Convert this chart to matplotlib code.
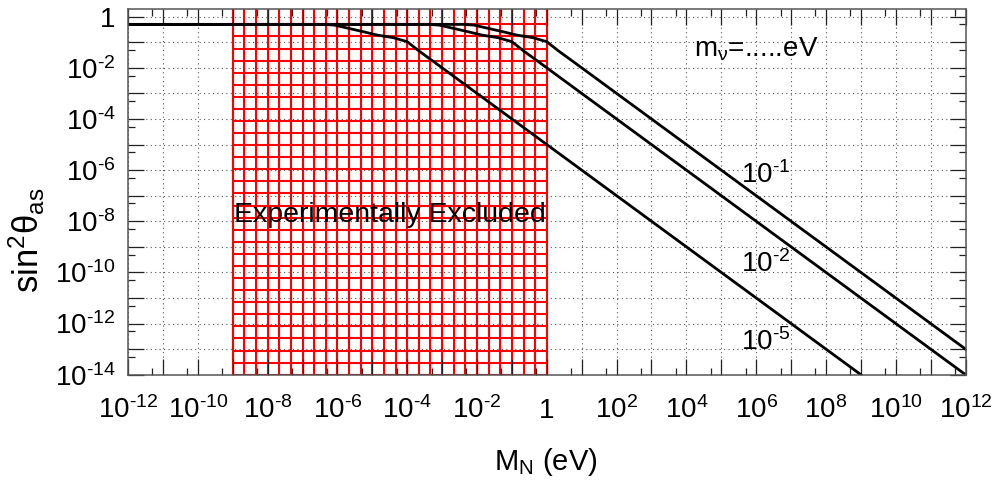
import numpy as np
import matplotlib
matplotlib.use("Agg")
import matplotlib.pyplot as plt
from matplotlib.ticker import FixedLocator, FixedFormatter

plt.rcParams["font.family"] = ["Liberation Sans", "DejaVu Sans"]
plt.rcParams["mathtext.fontset"] = "custom"
plt.rcParams["mathtext.rm"] = "Liberation Sans"
plt.rcParams["mathtext.it"] = "Liberation Sans:italic"
plt.rcParams["mathtext.bf"] = "Liberation Sans:bold"

# active-sterile mixing vs heavy mass, one curve per light neutrino mass
mass_nu_1e1 = [1e-12, 4e-3, 8e-3, 2e-2, 5.6e-2, 0.14, 0.4, 1.0, 2.2, 5.0, 1e12]
sin2_nu_1e1 = [0.5, 0.5, 0.47, 0.355, 0.257, 0.19, 0.151, 0.105, 0.045, 0.02, 1e-13]

mass_nu_1e2 = [1e-12, 4e-4, 8e-4, 2e-3, 5.6e-3, 1.4e-2, 4e-2, 0.1, 0.22, 0.5, 1e12]
sin2_nu_1e2 = [0.5, 0.5, 0.47, 0.355, 0.257, 0.19, 0.151, 0.105, 0.045, 0.02, 1e-14]

mass_nu_1e5 = [1e-12, 4e-7, 8e-7, 2e-6, 5.6e-6, 1.4e-5, 4e-5, 1e-4, 2.2e-4, 5e-4, 1e9]
sin2_nu_1e5 = [0.5, 0.5, 0.47, 0.355, 0.257, 0.19, 0.151, 0.105, 0.045, 0.02, 1e-14]

# experimentally excluded mass window (eV) and the top of its mesh
excluded_mass = (1e-9, 1.0)
excluded_top = 0.5

xtick_exp = list(range(-12, 13))
ytick_exp = list(range(-14, 1))


def power_label(k):
    if k == 0:
        return "1"
    sign = r"\text{-}" if k < 0 else ""
    return r"$\mathregular{10^{%s%d}}$" % (sign, abs(k))


fig = plt.figure(figsize=(9.94, 4.8), dpi=100)
ax = fig.add_axes([0.1288, 0.2194, 0.8426, 0.7613])
ax.set_xscale("log")
ax.set_yscale("log")
ax.set_xlim(1e-12, 1e12)
ax.set_ylim(1e-14, 1.95)

# dotted decade grid, kept under the mesh
for k in xtick_exp:
    ax.axvline(10.0 ** k, color="#555555", lw=0.8, ls=(0, (1, 3)), zorder=0.5)
for k in ytick_exp:
    ax.axhline(10.0 ** k, color="#555555", lw=0.8, ls=(0, (1, 3)), zorder=0.5)

# red mesh over the excluded window
lo, hi = excluded_mass
ymin, ymax = ax.get_ylim()
vx = np.logspace(np.log10(lo), np.log10(hi), 28)
hy = np.logspace(np.log10(ymin), np.log10(excluded_top), 30)
ax.vlines(vx, ymin, ymax, colors="#ff0000", lw=1.5, zorder=1)
ax.hlines(hy, lo, hi, colors="#ff0000", lw=1.5, zorder=1)

for m, s in ((mass_nu_1e1, sin2_nu_1e1), (mass_nu_1e2, sin2_nu_1e2),
             (mass_nu_1e5, sin2_nu_1e5)):
    ax.plot(m, s, color="black", lw=2.0, zorder=3, solid_joinstyle="round")

# ticks: every decade long, 5x10^n short, labels every other decade
ax.xaxis.set_major_locator(FixedLocator([10.0 ** k for k in xtick_exp]))
ax.xaxis.set_major_formatter(FixedFormatter(
    [power_label(k) if k % 2 == 0 else "" for k in xtick_exp]))
ax.xaxis.set_minor_locator(FixedLocator([5 * 10.0 ** k for k in xtick_exp[:-1]]))
ax.yaxis.set_major_locator(FixedLocator([10.0 ** k for k in ytick_exp]))
ax.yaxis.set_major_formatter(FixedFormatter(
    [power_label(k) if k % 2 == 0 else "" for k in ytick_exp]))
ax.yaxis.set_minor_locator(FixedLocator([5 * 10.0 ** k for k in ytick_exp[:-1]]))
ax.xaxis.set_minor_formatter(FixedFormatter([]))
ax.yaxis.set_minor_formatter(FixedFormatter([]))

ax.tick_params(which="both", direction="in", top=True, right=True,
               colors="#222222", labelcolor="black", width=0.9, labelsize=20)
ax.tick_params(which="major", length=11.5)
ax.tick_params(which="minor", length=5)
ax.tick_params(axis="y", which="major", pad=9)
ax.tick_params(axis="x", which="major", pad=31)
for lab in ax.get_xticklabels():
    lab.set_verticalalignment("baseline")
for sp in ax.spines.values():
    sp.set_color("#555555")
    sp.set_linewidth(1.1)
    sp.set_zorder(4)

ax.text(1.6e4, 0.027, r"$\mathregular{m_{ν}}$=.....eV", fontsize=20,
        ha="left", va="baseline", zorder=5)
for txt, yb in ((r"$\mathregular{10^{\text{-}1}}$", 10 ** -6.5),
                (r"$\mathregular{10^{\text{-}2}}$", 10 ** -9.97),
                (r"$\mathregular{10^{\text{-}5}}$", 10 ** -13.04)):
    ax.text(3.6e5, yb, txt, fontsize=20, ha="left", va="baseline", zorder=5)
ax.text(1.1e-9, 10 ** -8.03, "Experimentally Excluded", fontsize=20.5,
        ha="left", va="baseline", zorder=5)

fig.text(546 / 994, 1 - 470 / 480, r"$\mathregular{M_N}$ (eV)", fontsize=21,
         ha="center", va="baseline")
fig.text(27 / 994, 1 - 240 / 480, r"$\mathregular{sin^2θ_{as}}$", fontsize=25,
         ha="center", va="center", rotation=90)

fig.savefig("out.png", dpi=100)
